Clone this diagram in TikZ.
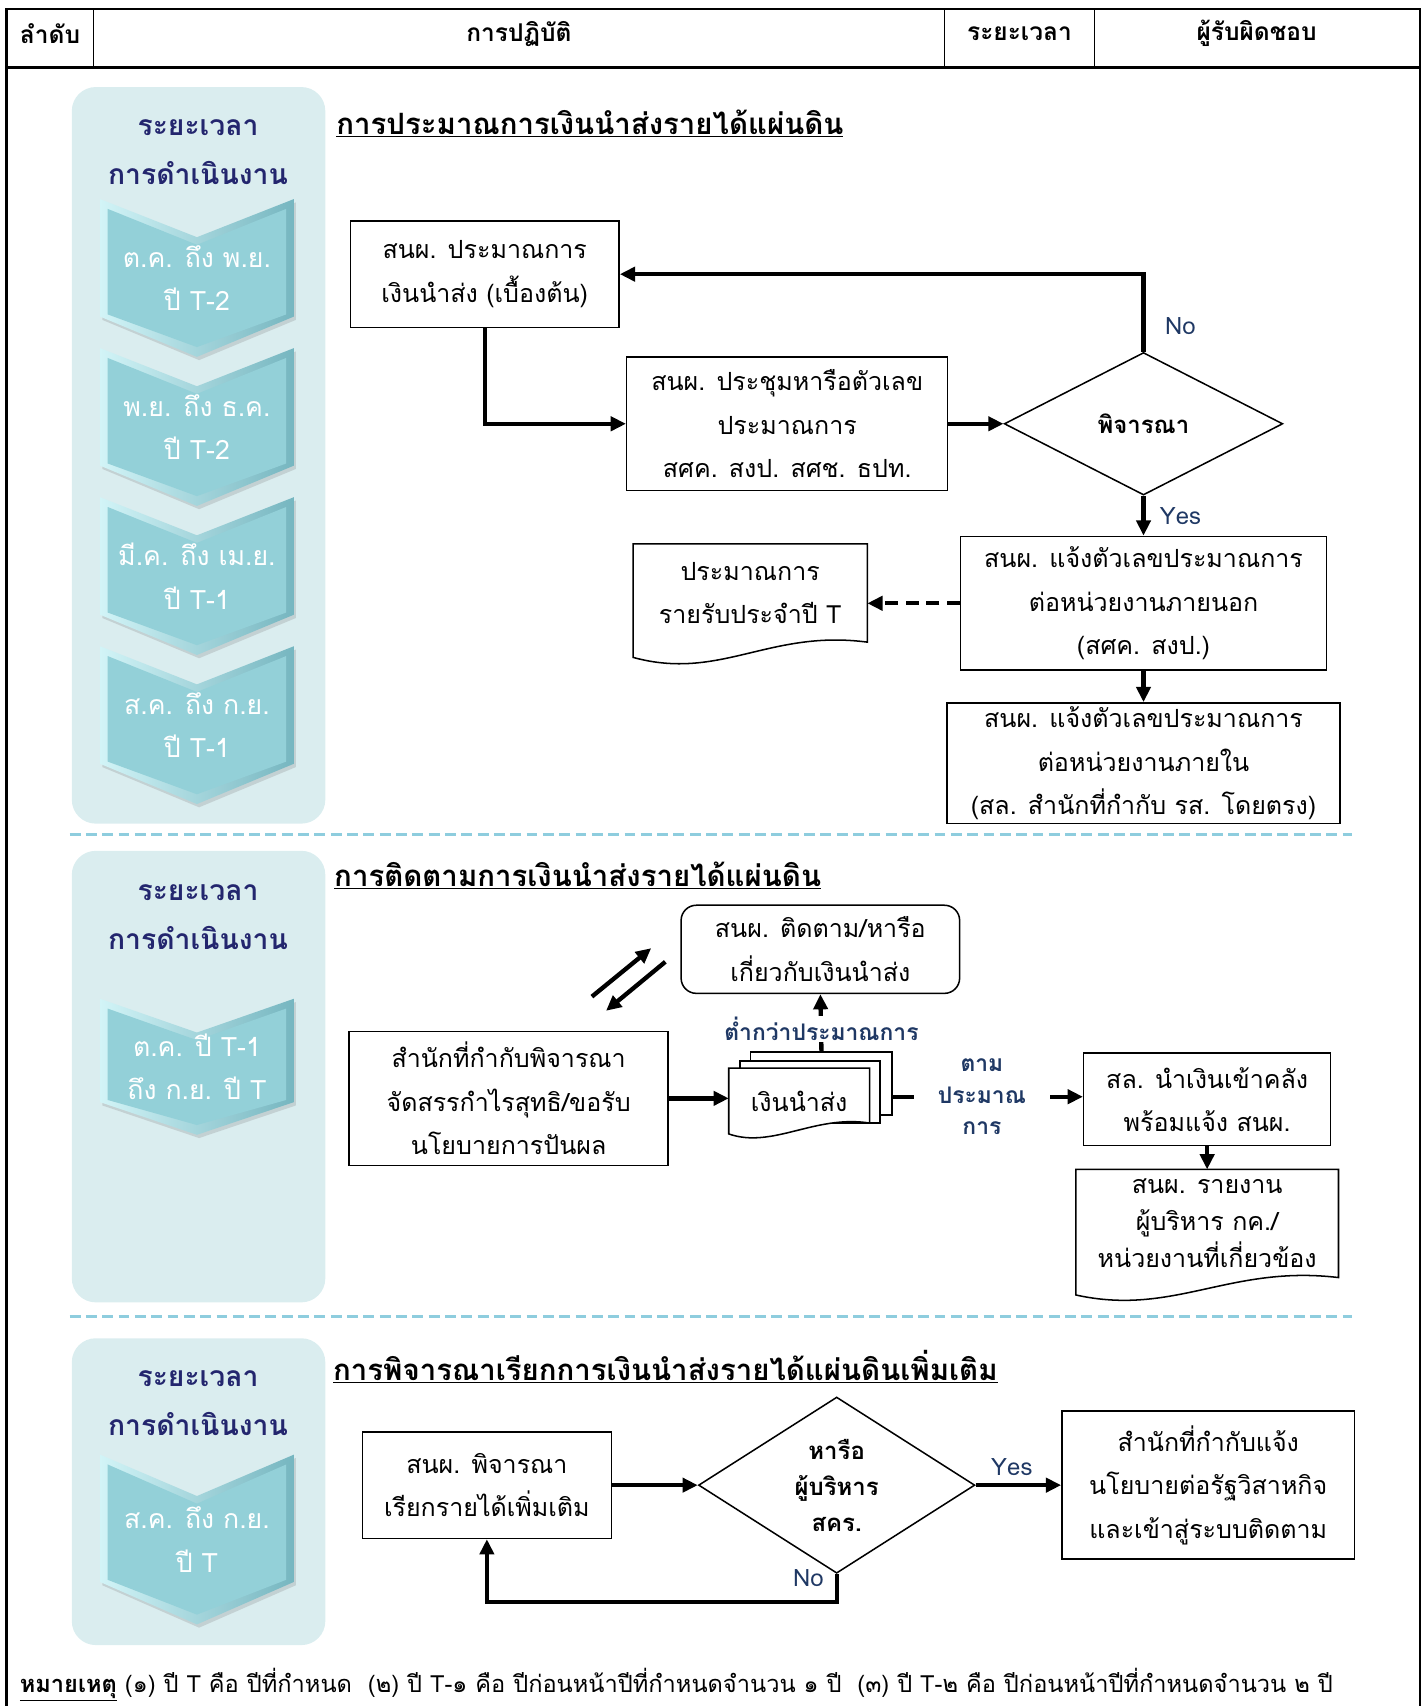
\documentclass[tikz,border=0pt]{standalone}
\usepackage{fontspec}
\setmainfont[Script=Thai]{Loma}
\usepackage{tikz}
\usetikzlibrary{arrows.meta,shapes.geometric,shadows}

\definecolor{panelbg}{RGB}{218,237,239}
\definecolor{chevfill}{RGB}{147,208,216}
\definecolor{chevlight}{RGB}{210,244,247}
\definecolor{chevdark}{RGB}{118,182,192}
\definecolor{headnavy}{RGB}{35,38,110}
\definecolor{lblnavy}{RGB}{31,56,100}
\definecolor{sepblue}{RGB}{142,205,222}

\begin{document}
\begin{tikzpicture}
[x=1pt,y=-1pt,>={Triangle[length=14pt,width=13pt]},
  thick line/.style={line width=4pt},
  main box/.style={rectangle,draw,line width=1.4pt,align=center,inner sep=0pt,font=\fontsize{23}{40}\selectfont},
  round box/.style={main box,rounded corners=14pt},
  doc box/.style={rectangle,align=center,inner sep=0pt,font=\fontsize{23}{40}\selectfont},
  doc line/.style={draw,fill=white,line width=1.4pt},
  choice/.style={diamond,draw,line width=1.4pt,align=center,inner sep=0pt,font=\bfseries\fontsize{22}{33}\selectfont},
  yes no/.style={text=lblnavy,font=\fontsize{22}{26}\selectfont},
  flow label/.style={text=lblnavy,align=center,inner sep=1pt,font=\bfseries\fontsize{21}{29}\selectfont},
  time panel/.style={fill=panelbg,rounded corners=22pt},
  time head/.style={text=headnavy,align=center,font=\bfseries\fontsize{26}{45}\selectfont},
  time text/.style={text=white,align=center,font=\fontsize{24.5}{40}\selectfont},
  part title/.style={anchor=west,inner sep=0pt,font=\bfseries\fontsize{27}{30}\selectfont},
  col head/.style={font=\bfseries\fontsize{22.5}{26}\selectfont},
  sep line/.style={sepblue,line width=3.5pt,dash pattern=on 10pt off 5pt}]
\useasboundingbox (0,0) rectangle (1312,1568);

% table frame and header
\draw[line width=2pt] (6,1568) -- (6,8) -- (1305,8) -- (1305,1568);
\draw[line width=2.5pt] (6,62) -- (1305,62);
\draw[line width=1.2pt] (86,8) -- (86,62) (868,8) -- (868,62) (1006,8) -- (1006,62);
\node[col head] (c1) at (46,31) {ลำดับ};
\node[col head] (c2) at (477,31) {การปฏิบัติ};
\node[col head] (c3) at (937,31) {ระยะเวลา};
\node[col head] (c4) at (1155,31) {ผู้รับผิดชอบ};

% time panels
\fill[time panel] (66,80) rectangle (299,757);
\fill[time panel] (66,782) rectangle (299,1197);
\fill[time panel] (66,1230) rectangle (299,1512);
\node[time head] (p1) at (182,140) {ระยะเวลา\\การดำเนินงาน};
\node[time head] (p2) at (182,843) {ระยะเวลา\\การดำเนินงาน};
\node[time head] (p3) at (182,1290) {ระยะเวลา\\การดำเนินงาน};

\foreach \yt/\hh/\ss/\nn/\la/\lb/\nm in {
  183/145/108/35/{ต.ค. ถึง พ.ย.}/{ปี T-2}/a,
  320/145/108/35/{พ.ย. ถึง ธ.ค.}/{ปี T-2}/b,
  457/145/108/35/{มี.ค. ถึง เม.ย.}/{ปี T-1}/c,
  594/145/108/35/{ส.ค. ถึง ก.ย.}/{ปี T-1}/d,
  918/125/95/31/{ต.ค. ปี T-1}/{ถึง ก.ย. ปี T}/e,
  1337/156/117/38/{ส.ค. ถึง ก.ย.}/{ปี T}/f}
{
  \shade[left color=chevlight,right color=chevdark,
    drop shadow={opacity=0.25,shadow xshift=2pt,shadow yshift=-3pt}]
    (92,\yt) -- (181,\yt+\nn) -- (270,\yt) -- (270,\yt+\ss) -- (181,\yt+\hh) -- (92,\yt+\ss) -- cycle;
  \fill[chevfill] (99,\yt+9) -- (181,\yt+\nn+7) -- (263,\yt+9) -- (263,\yt+\ss-2)
    -- (181,\yt+\hh-9) -- (99,\yt+\ss-2) -- cycle;
  \node[time text] (t\nm) at (181,\yt+\hh/2) {\la\\\lb};
}

% part 1
\node[part title] (title1) at (309,113) {\underline{การประมาณการเงินนำส่งรายได้แผ่นดิน}};
\node[main box,minimum width=247pt,minimum height=98pt] (est) at (445.5,252) {สนผ. ประมาณการ\\เงินนำส่ง (เบื้องต้น)};
\node[main box,minimum width=295pt,minimum height=123pt] (meet) at (723.5,389.5) {สนผ. ประชุมหารือตัวเลข\\ประมาณการ\\สศค. สงป. สศช. ธปท.};
\node[choice,minimum width=256pt,minimum height=131pt] (check) at (1051,389.5) {พิจารณา};
\node[main box,minimum width=336pt,minimum height=123pt] (outer) at (1051,554.5) {สนผ. แจ้งตัวเลขประมาณการ\\ต่อหน่วยงานภายนอก\\(สศค. สงป.)};
\node[doc box,minimum width=215pt,minimum height=90pt] (income) at (689.5,545) {};
\draw[doc line] ([yshift=-14pt]income.south west) -- (income.north west) -- (income.north east) -- (income.south east)
  .. controls +(-90,-12) and +(80,22) .. ([yshift=-14pt]income.south west) -- cycle;
\node[doc box] (incometext) at (income) {ประมาณการ\\รายรับประจำปี T};
\node[main box,minimum width=361pt,minimum height=111pt] (inner) at (1051,701.5) {สนผ. แจ้งตัวเลขประมาณการ\\ต่อหน่วยงานภายใน\\(สล. สำนักที่กำกับ รส. โดยตรง)};

\draw[->,thick line] (est.south) |- (meet.west);
\draw[->,thick line] (meet.east) -- (check.west);
\draw[->,thick line] (check.north) |- (est.east);
\draw[->,thick line] (check.south) -- (outer.north);
\draw[->,thick line,dash pattern=on 12pt off 7pt] (outer.west) -- (outer.west -| income.east);
\draw[->,thick line] (outer.south) -- (inner.north);
\node[yes no] (no1) at (1085,300) {No};
\node[yes no] (yes1) at (1085,474) {Yes};

\draw[sep line] (64,767) -- (1243,767);

% part 2
\node[part title] (title2) at (307,805) {\underline{การติดตามการเงินนำส่งรายได้แผ่นดิน}};
\node[round box,minimum width=256pt,minimum height=81pt] (follow) at (754,872.5) {สนผ. ติดตาม/หารือ\\เกี่ยวกับเงินนำส่ง};
\node[main box,minimum width=293pt,minimum height=123pt] (office) at (467.5,1009.5) {สำนักที่กำกับพิจารณา\\จัดสรรกำไรสุทธิ/ขอรับ\\นโยบายการปันผล};
\node[main box,fill=white,minimum width=130pt,minimum height=58pt] (pay2) at (755,996) {};
\node[main box,fill=white,minimum width=129pt,minimum height=57pt] (pay1) at (744.5,1003.5) {};
\node[doc box,minimum width=129pt,minimum height=50pt] (pay) at (734.5,1007) {};
\draw[doc line] ([yshift=-10pt]pay.south west) -- (pay.north west) -- (pay.north east) -- (pay.south east)
  .. controls +(-50,-8) and +(40,14) .. ([yshift=-10pt]pay.south west) -- cycle;
\node[doc box] (paytext) at (734.5,1012) {เงินนำส่ง};
\node[flow label,minimum width=125pt] (asplan) at (902.5,1008) {ตาม\\ประมาณ\\การ};
\node[main box,minimum width=227pt,minimum height=85pt] (treasury) at (1109.5,1010.5) {สล. นำเงินเข้าคลัง\\พร้อมแจ้ง สนผ.};
\node[doc box,minimum width=241pt,minimum height=99pt] (report) at (1109.5,1124.5) {};
\draw[doc line] ([yshift=-16pt]report.south west) -- (report.north west) -- (report.north east) -- (report.south east)
  .. controls +(-100,-12) and +(90,20) .. ([yshift=-16pt]report.south west) -- cycle;
\node[doc box,font=\fontsize{23}{34}\selectfont] (reporttext) at (report) {สนผ. รายงาน\\ผู้บริหาร กค./\\หน่วยงานที่เกี่ยวข้อง};
\coordinate (up0) at (544,916);
\coordinate (up1) at (598.5,871.5);
\coordinate (dn0) at (611.5,884);
\coordinate (dn1) at (557,929);

\draw[->,thick line] (up0) -- (up1);
\draw[->,thick line] (dn0) -- (dn1);
\draw[->,thick line] (office.east) -- (office.east -| pay.west);
\draw[->,thick line] (pay2.north) -- (follow.south);
\node[flow label,fill=white] (under) at (755,946) {ต่ำกว่าประมาณการ};
\draw[thick line] (asplan.west -| pay2.east) -- (asplan.west);
\draw[->,thick line] (asplan.east) -- (asplan.east -| treasury.west);
\draw[->,thick line] (treasury.south) -- (report.north);

\draw[sep line] (64,1210) -- (1243,1210);

% part 3
\node[part title] (title3) at (306,1256) {\underline{การพิจารณาเรียกการเงินนำส่งรายได้แผ่นดินเพิ่มเติม}};
\node[main box,minimum width=229pt,minimum height=98pt] (recall) at (447.5,1365) {สนผ. พิจารณา\\เรียกรายได้เพิ่มเติม};
\node[choice,minimum width=254pt,minimum height=158pt] (board) at (769,1365) {หารือ\\ผู้บริหาร\\สคร.};
\node[main box,minimum width=269pt,minimum height=136pt] (policy) at (1110.5,1365) {สำนักที่กำกับแจ้ง\\นโยบายต่อรัฐวิสาหกิจ\\และเข้าสู่ระบบติดตาม};

\draw[->,thick line] (recall.east) -- (board.west);
\draw[->,thick line] (board.east) -- (policy.west);
\draw[->,thick line] (board.south) -- ++(0,26) -| (recall.south);
\node[yes no] (yes3) at (930,1348) {Yes};
\node[yes no] (no3) at (743,1450) {No};

% note
\node[anchor=west,inner sep=0pt,font=\fontsize{21.7}{24}\selectfont] (note) at (18,1548)
  {\textbf{\underline{หมายเหตุ}} (๑) ปี T คือ ปีที่กำหนด\ \ (๒) ปี T-๑ คือ ปีก่อนหน้าปีที่กำหนดจำนวน ๑ ปี\ \ (๓) ปี T-๒ คือ ปีก่อนหน้าปีที่กำหนดจำนวน ๒ ปี};
\end{tikzpicture}
\end{document}
